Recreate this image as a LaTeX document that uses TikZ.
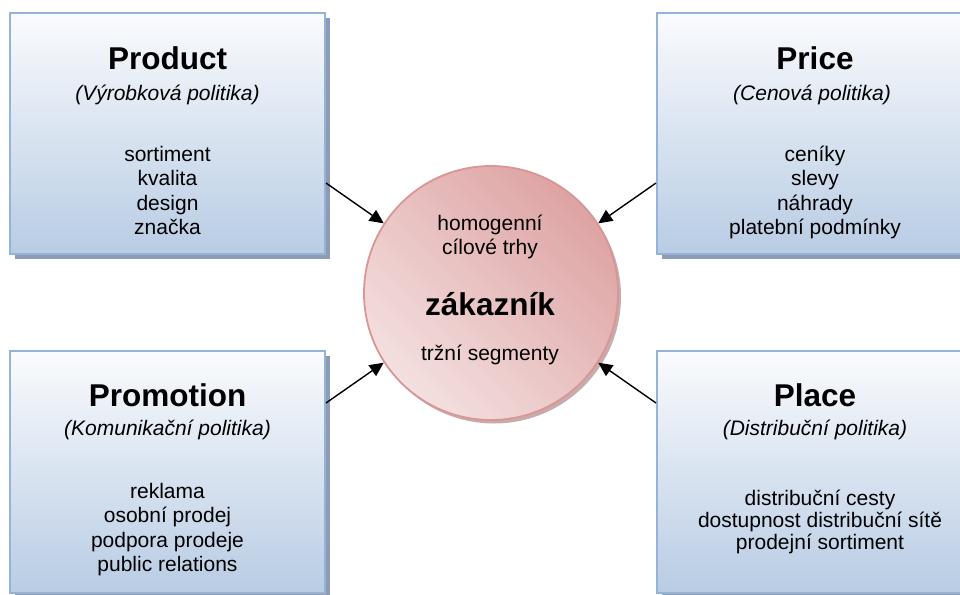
\documentclass[tikz,border=0pt]{standalone}
\usepackage{fontspec}
\setmainfont{Liberation Sans}
\usetikzlibrary{arrows.meta}

\definecolor{boxtop}{RGB}{250,251,253}
\definecolor{boxbot}{RGB}{184,204,228}
\definecolor{boxline}{RGB}{149,179,215}
\definecolor{boxshadow}{RGB}{140,156,180}
\definecolor{circlight}{RGB}{244,224,224}
\definecolor{circdark}{RGB}{222,163,163}
\definecolor{circline}{RGB}{217,150,148}
\definecolor{circshadow}{RGB}{176,136,136}

\tikzset{
  policybox/.style={rectangle, draw=boxline, line width=2pt,
    top color=boxtop, bottom color=boxbot, inner sep=0pt},
  boxshade/.style={rectangle, fill=boxshadow, draw=none, inner sep=0pt},
  title/.style={anchor=base, font=\fontsize{31.5}{36}\selectfont\bfseries},
  subtitle/.style={anchor=base, font=\fontsize{21}{24.5}\selectfont\itshape},
  items/.style={anchor=base, inner sep=0pt, font=\fontsize{21}{24.5}\selectfont},
  arr/.style={line width=1.4pt, -{Triangle[length=14pt,width=13pt]}}
}

\begin{document}
\begin{tikzpicture}[x=1pt,y=-1pt]
\useasboundingbox (0,0) rectangle (960,594);
\clip (0,0) rectangle (960,594);

% shadows of the four boxes
\node[boxshade, minimum width=315pt, minimum height=241pt] at (172.5,138.5) {};
\node[boxshade, minimum width=316pt, minimum height=241pt] at (820,138.5) {};
\node[boxshade, minimum width=315pt, minimum height=242pt] at (172.5,477) {};
\node[boxshade, minimum width=316pt, minimum height=242pt] at (820,477) {};

% the four policy boxes
\node[policybox, minimum width=315pt, minimum height=241pt] (tlbox) at (167.5,133.5) {};
\node[policybox, minimum width=316pt, minimum height=241pt] (trbox) at (815,133.5) {};
\node[policybox, minimum width=315pt, minimum height=242pt] (blbox) at (167.5,472) {};
\node[policybox, minimum width=316pt, minimum height=242pt] (brbox) at (815,472) {};

% customer circle with its shadow
\fill[circshadow, opacity=0.7] (494,296.5) circle (127pt);
\node[circle, draw=circline, line width=1.8pt, minimum size=254pt,
      top color=circdark, bottom color=circlight, shading angle=-45] (cust) at (491,293) {};

% Product
\node[title] (t1) at (167.5,69) {Product};
\node[subtitle] (s1) at (167.5,100) {(Výrobková politika)};
\node[items] (i1) at (167.5,161) {\begin{tabular}[t]{@{}c@{}}sortiment\\kvalita\\design\\značka\end{tabular}};

% Price
\node[title] (t2) at (815,69) {Price};
\node[subtitle] (s2) at (812,100) {(Cenová politika)};
\node[items] (i2) at (815,161) {\begin{tabular}[t]{@{}c@{}}ceníky\\slevy\\náhrady\\platební podmínky\end{tabular}};

% Promotion
\node[title] (t3) at (167.5,406) {Promotion};
\node[subtitle] (s3) at (167.5,435) {(Komunikační politika)};
\node[items] (i3) at (167.5,498) {\begin{tabular}[t]{@{}c@{}}reklama\\osobní prodej\\podpora prodeje\\public relations\end{tabular}};

% Place
\node[title] (t4) at (815,406) {Place};
\node[subtitle] (s4) at (815,435) {(Distribuční politika)};
\node[items, font=\fontsize{21}{22}\selectfont] (i4) at (820,505) {\begin{tabular}[t]{@{}c@{}}distribuční cesty\\dostupnost distribuční sítě\\prodejní sortiment\end{tabular}};

% circle texts
\node[items] (c1) at (490,230) {\begin{tabular}[t]{@{}c@{}}homogenní\\cílové trhy\end{tabular}};
\node[title] (c2) at (490,315) {zákazník};
\node[items] (c3) at (490,360) {tržní segmenty};

% connectors
\draw[arr] ([yshift=-49.5pt]tlbox.east) -- (cust.147);
\draw[arr] ([yshift=-49.5pt]trbox.west) -- (cust.33);
\draw[arr] ([yshift=69pt]blbox.east) -- (cust.213);
\draw[arr] ([yshift=69pt]brbox.west) -- (cust.327);
\end{tikzpicture}
\end{document}
